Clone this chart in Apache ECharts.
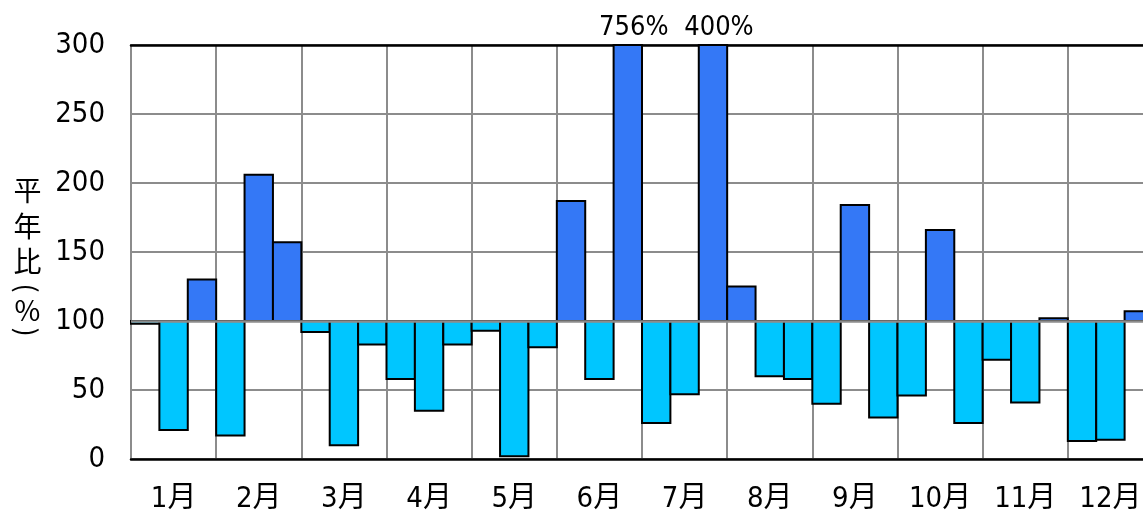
<!DOCTYPE html>
<html>
<head>
<meta charset="utf-8">
<script src="https://cdn.jsdelivr.net/npm/echarts@6/dist/echarts.min.js"></script>
<style>
  html, body { margin: 0; padding: 0; background: #fff; }
  #chart { width: 1143px; height: 515px; }
</style>
</head>
<body>
<div id="chart"></div>
<script>
// 月ラベル（各月 上旬・中旬・下旬）
const months = ['1月', '2月', '3月', '4月', '5月', '6月', '7月', '8月', '9月', '10月', '11月', '12月']
const dekads = ['上旬', '中旬', '下旬']
// 平年比（%）
const ratios = [
  98, 21, 130,
  17, 206, 157,
  92, 10, 83,
  58, 35, 83,
  93, 2, 81,
  187, 58, 756,
  26, 47, 400,
  125, 60, 58,
  40, 184, 30,
  46, 166, 26,
  72, 41, 102,
  13, 14, 107
]
const yTicks = [0, 50, 100, 150, 200, 250, 300]

const BASE = 100
const Y_MAX = 300
const FONT = '"DejaVu Sans Condensed", "Noto Sans CJK JP", sans-serif'
const CJK = '"Noto Sans CJK JP", sans-serif'
const ABOVE = '#3478F6'
const BELOW = '#00C6FF'
const GRID_GRAY = '#8c8c8c'

const categories = []
months.forEach(m => dekads.forEach(d => categories.push(m + d)))

// 平年比 100 を基準に上下へ伸びる棒
function renderBar(params, api) {
  const i = api.value(0)
  const v = api.value(1)
  const shown = Math.min(v, Y_MAX)
  const bw = api.size([1, 0])[0]
  const top = api.coord([i, Math.max(shown, BASE)])
  const bottom = api.coord([i, Math.min(shown, BASE)])
  const children = [{
    type: 'rect',
    shape: { x: top[0] - bw / 2, y: top[1], width: bw, height: bottom[1] - top[1] },
    style: { fill: v >= BASE ? ABOVE : BELOW, stroke: '#000', lineWidth: 2 }
  }]
  if (v > Y_MAX) {
    children.push({
      type: 'text',
      x: top[0] + 6,
      y: top[1] - 4,
      style: {
        text: v + '%', font: '27px ' + FONT, fill: '#000',
        align: 'center', verticalAlign: 'bottom'
      }
    })
  }
  return { type: 'group', children }
}

const chart = echarts.init(document.getElementById('chart'))

chart.setOption({
  animation: false,
  backgroundColor: '#fff',
  grid: { left: 131, width: 1022, top: 45, bottom: 56, outerBoundsMode: 'none', containLabel: false },
  xAxis: [
    {
      type: 'category',
      data: categories,
      position: 'bottom',
      axisLine: { lineStyle: { color: '#000', width: 2.5 } },
      axisTick: { show: false },
      axisLabel: {
        interval: (i) => i % 3 === 1,
        formatter: (v) => v.replace(/[上中下]旬$/, ''),
        fontFamily: FONT,
        fontSize: 29,
        color: '#000',
        margin: 26
      },
      splitLine: {
        show: true,
        interval: (i) => i % 3 === 0,
        lineStyle: { color: GRID_GRAY, width: 2 }
      }
    },
    {
      type: 'category',
      data: categories,
      position: 'top',
      axisLine: { lineStyle: { color: '#000', width: 2.5 } },
      axisTick: { show: false },
      axisLabel: { show: false },
      splitLine: { show: false }
    }
  ],
  yAxis: {
    type: 'value',
    min: yTicks[0],
    max: yTicks[yTicks.length - 1],
    interval: yTicks[1] - yTicks[0],
    axisLine: { show: true, lineStyle: { color: GRID_GRAY, width: 2 } },
    axisTick: { show: false },
    axisLabel: {
      fontFamily: FONT,
      fontSize: 29,
      color: '#000',
      margin: 26
    },
    splitLine: { lineStyle: { color: GRID_GRAY, width: 2 } }
  },
  // 縦書きの軸タイトル「平年比(%)」
  graphic: [
    { type: 'text', x: 27.5, y: 226, style: { text: '平\n年\n比', font: '28px ' + CJK, lineHeight: 35.5, fill: '#000', align: 'center', verticalAlign: 'middle' } },
    { type: 'text', x: 27.5, y: 288, rotation: -Math.PI / 2, style: { text: '(', font: '27px ' + CJK, fill: '#000', align: 'center', verticalAlign: 'middle' } },
    { type: 'text', x: 27.5, y: 310, style: { text: '%', font: '28px ' + CJK, fill: '#000', align: 'center', verticalAlign: 'middle' } },
    { type: 'text', x: 27.5, y: 332, rotation: -Math.PI / 2, style: { text: ')', font: '27px ' + CJK, fill: '#000', align: 'center', verticalAlign: 'middle' } }
  ],
  series: [
    {
      type: 'custom',
      renderItem: renderBar,
      encode: { x: 0, y: 1 },
      data: ratios.map((v, i) => [i, v]),
      clip: false
    },
    {
      // 平年並み(100)の基準線
      type: 'line',
      data: [],
      markLine: {
        silent: true,
        symbol: 'none',
        label: { show: false },
        lineStyle: { color: GRID_GRAY, width: 2.5, type: 'solid' },
        data: [{ yAxis: BASE }]
      }
    }
  ]
})
</script>
</body>
</html>
